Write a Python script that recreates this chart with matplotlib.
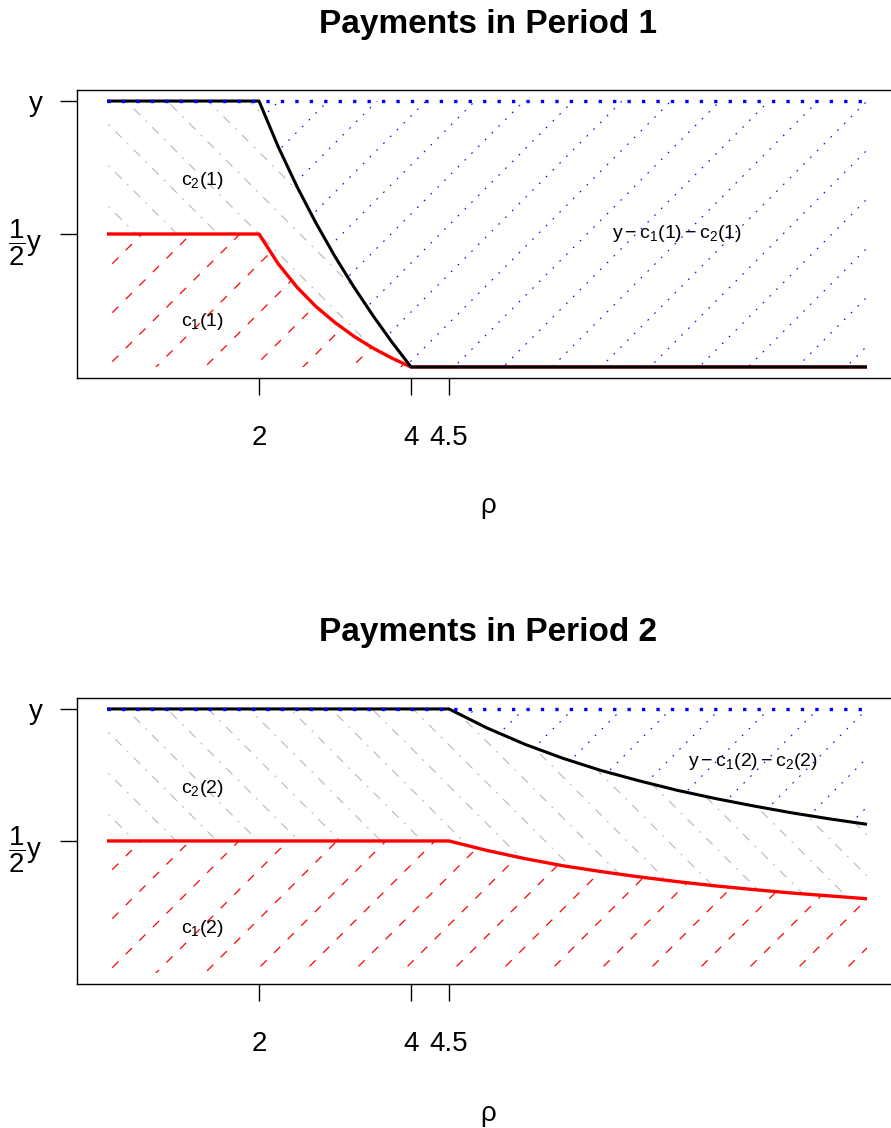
import matplotlib.pyplot as plt
from matplotlib.patches import Polygon
import numpy as np

plt.rcParams["font.family"] = ["Liberation Sans", "DejaVu Sans"]
plt.rcParams["mathtext.fontset"] = "custom"
plt.rcParams["mathtext.rm"] = "Liberation Sans"
plt.rcParams["mathtext.it"] = "Liberation Sans"
plt.rcParams["mathtext.bf"] = "Liberation Sans:bold"
plt.rcParams["lines.scale_dashes"] = False

# Period 1: payments as a function of rho
rho_p1 = [0, 2, 2.25, 2.5, 2.75, 3.0, 3.25, 3.5, 3.75, 4, 10]
total_p1 = [1, 1, 0.83, 0.678, 0.541, 0.415, 0.300, 0.193, 0.093, 0, 0]   # c1(1) + c2(1)
c1_p1 = [0.5, 0.5, 0.389, 0.300, 0.227, 0.167, 0.115, 0.071, 0.033, 0, 0]

# Period 2
rho_p2 = [0, 4.5, 5, 5.5, 6, 6.5, 7, 7.5, 8, 8.5, 9, 9.5, 10]
total_p2 = [1, 1, 0.928, 0.866, 0.813, 0.767, 0.728, 0.692, 0.661, 0.633, 0.607, 0.584, 0.563]
c1_p2 = [0.5, 0.5, 0.464, 0.433, 0.406, 0.384, 0.364, 0.346, 0.330, 0.316, 0.303, 0.292, 0.281]

x_ticks = [2, 4, 4.5]
x_tick_labels = ["2", "4", "4.5"]
y_ticks = [0.5, 1]
y_tick_labels = [r"$\dfrac{1}{2}\mathrm{y}$", "y"]

panels = [
    {
        "title": "Payments in Period 1",
        "rho": rho_p1, "total": total_p1, "c1": c1_p1,
        "labels": [(1.25, 0.70, r"$\mathrm{c}_2(1)$"),
                   (1.25, 0.17, r"$\mathrm{c}_1(1)$"),
                   (7.5, 0.50, r"$\mathrm{y}-\mathrm{c}_1(1)-\mathrm{c}_2(1)$")],
        "rect": [76.6, 90.4, 820.8, 287.2],
    },
    {
        "title": "Payments in Period 2",
        "rho": rho_p2, "total": total_p2, "c1": c1_p2,
        "labels": [(1.25, 0.70, r"$\mathrm{c}_2(2)$"),
                   (1.25, 0.17, r"$\mathrm{c}_1(2)$"),
                   (8.5, 0.80, r"$\mathrm{y}-\mathrm{c}_1(2)-\mathrm{c}_2(2)$")],
        "rect": [76.6, 698.4, 820.8, 285.1],
    },
]

W, H = 891, 1128
PX = 0.72  # points per pixel at dpi 100


def hatch(ax, xs, lo, hi, spacing, direction, anchor, color, dashes, lw):
    verts = list(zip(xs, hi)) + list(zip(xs[::-1], lo[::-1]))
    patch = Polygon(verts, closed=True, transform=ax.transData,
                    fill=False, edgecolor="none")
    ax.add_patch(patch)
    x0, y0, x1, y1 = ax.bbox.extents
    ax_px, ay_px = ax.transData.transform(anchor)
    c_anchor = ay_px - direction * ax_px
    corners = [(x0, y0), (x0, y1), (x1, y0), (x1, y1)]
    cs = [cy - direction * cx for cx, cy in corners]
    k_lo = int(np.floor((min(cs) - c_anchor) / spacing)) - 1
    k_hi = int(np.ceil((max(cs) - c_anchor) / spacing)) + 1
    inv = ax.transData.inverted()
    for k in range(k_lo, k_hi + 1):
        c = c_anchor + k * spacing
        p = inv.transform([(x0 - 5, direction * (x0 - 5) + c),
                           (x1 + 5, direction * (x1 + 5) + c)])
        line, = ax.plot(p[:, 0], p[:, 1], color=color, lw=lw,
                        linestyle=(0, dashes), zorder=1)
        line.set_clip_path(patch)


def main():
    fig = plt.figure(figsize=(W / 100, H / 100), dpi=100)

    for panel in panels:
        left, top, width, height = panel["rect"]
        ax = fig.add_axes([left / W, 1 - (top + height) / H, width / W, height / H])
        ax.set_xlim(-0.4, 10.4)
        ax.set_ylim(-0.04, 1.04)

        rho = np.array(panel["rho"], dtype=float)
        total = np.array(panel["total"], dtype=float)
        c1 = np.array(panel["c1"], dtype=float)
        ones = np.ones_like(rho)
        zeros = np.zeros_like(rho)

        # hatched regions
        hatch(ax, rho, zeros, c1, 49, 1, (0, 0), "red",
              (6.2, 7.6), 0.9)
        hatch(ax, rho, c1, total, 41, -1, (0.79, 1), "#BEBEBE",
              (1.4, 5.4, 6.6, 5.4), 0.9)
        hatch(ax, rho, total, ones, 49, 1, (10, 1), "blue",
              (1.2, 5.7), 0.8)

        ax.plot(rho, c1, color="red", lw=2.4, zorder=3, solid_capstyle="butt")
        ax.plot(rho, total, color="black", lw=2.2, zorder=4, solid_capstyle="butt")
        ax.plot([rho[0], rho[-1]], [1, 1], color="blue", lw=2.4,
                linestyle=(0, (2.4, 8.0)), zorder=5)

        for x, y, s in panel["labels"]:
            ax.text(x, y, s, fontsize=14, ha="center", va="center", zorder=6)

        ax.set_xticks(x_ticks)
        ax.set_xticklabels(x_tick_labels, fontsize=20)
        ax.set_yticks(y_ticks)
        ax.set_yticklabels(y_tick_labels, fontsize=20)
        ax.tick_params(axis="x", length=17 * PX, width=1.0, pad=22)
        ax.tick_params(axis="y", length=17 * PX, width=1.0, pad=12)
        for spine in ax.spines.values():
            spine.set_linewidth(1.0)

        fig.text(488 / W, 1 - (top - 57) / H, panel["title"], fontsize=24,
                 fontweight="bold", ha="center", va="baseline")
        fig.text(488 / W, 1 - (top + 416) / H, "ρ", fontsize=20,
                 ha="center", va="center")

    fig.savefig("out.png", dpi=100)
    plt.close(fig)


if __name__ == "__main__":
    main()
